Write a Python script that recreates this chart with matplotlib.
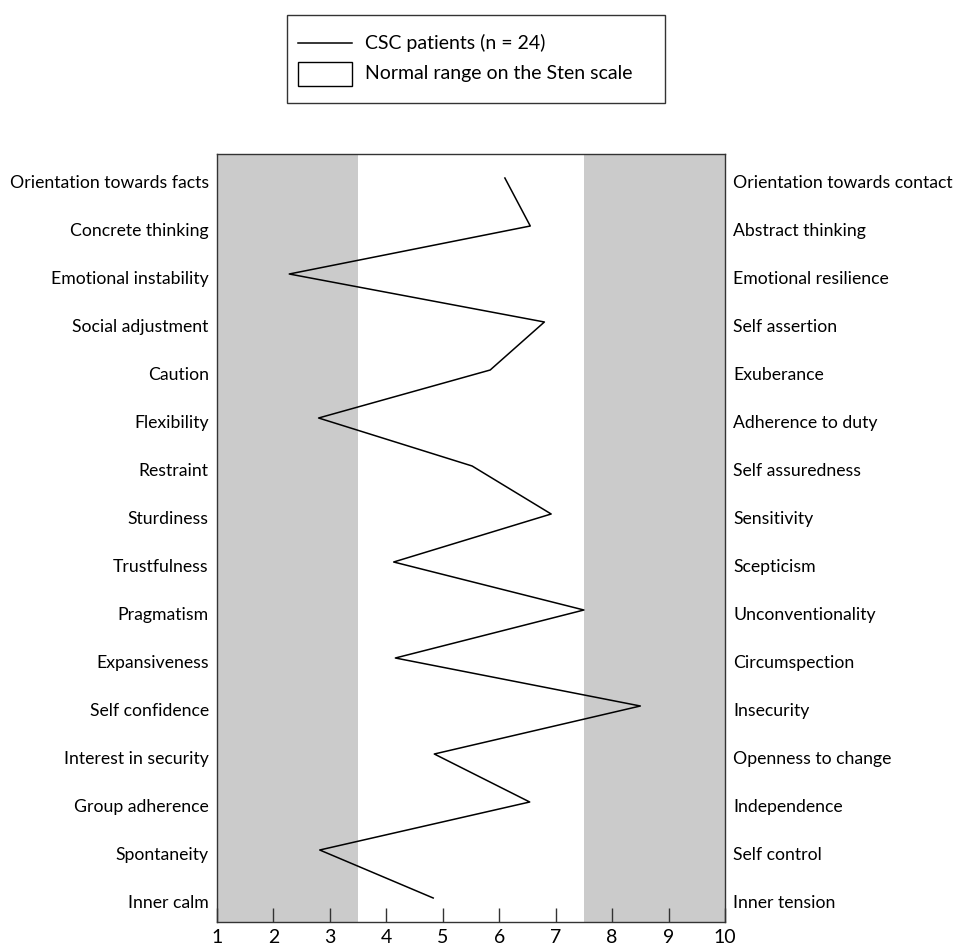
import matplotlib
matplotlib.use('Agg')
import matplotlib.pyplot as plt
import matplotlib.transforms as mtransforms
from matplotlib.patches import Rectangle
from matplotlib.lines import Line2D

plt.rcParams['font.family'] = ['Lato', 'DejaVu Sans']

# 16PF factors: low pole (left) / high pole (right)
left_labels = ['Orientation towards facts', 'Concrete thinking', 'Emotional instability',
               'Social adjustment', 'Caution', 'Flexibility', 'Restraint', 'Sturdiness',
               'Trustfulness', 'Pragmatism', 'Expansiveness', 'Self confidence',
               'Interest in security', 'Group adherence', 'Spontaneity', 'Inner calm']
right_labels = ['Orientation towards contact', 'Abstract thinking', 'Emotional resilience',
                'Self assertion', 'Exuberance', 'Adherence to duty', 'Self assuredness',
                'Sensitivity', 'Scepticism', 'Unconventionality', 'Circumspection',
                'Insecurity', 'Openness to change', 'Independence', 'Self control',
                'Inner tension']
# mean sten score of CSC patients
sten = [6.1, 6.55, 2.28, 6.8, 5.84, 2.8, 5.52, 6.92, 4.13, 7.5, 4.16, 8.5, 4.85, 6.54, 2.82, 4.83]
normal_low, normal_high = 3.5, 7.5
xticks = list(range(1, 11))

W, H = 956, 946
fig = plt.figure(figsize=(W / 100, H / 100), dpi=100)
ax = fig.add_axes([217 / W, 1 - 922 / H, 508 / W, 768 / H])

rows = list(range(1, len(sten) + 1))
grey = '#cbcbcb'
ax.axvspan(1, normal_low, color=grey, lw=0, zorder=0)
ax.axvspan(normal_high, 10, color=grey, lw=0, zorder=0)
ax.plot(sten, rows, color='black', lw=1.1, zorder=3)

ax.set_xlim(1, 10)
ax.set_ylim(len(sten) + 0.5, 0.5)
ax.set_xticks(xticks)
ax.set_xticklabels([str(t) for t in xticks], fontsize=14)
ax.tick_params(axis='x', direction='in', length=10, width=1, color='#333333', pad=5)
ax.set_yticks(rows)
ax.set_yticklabels(left_labels, fontsize=12.7)
ax.tick_params(axis='y', length=0, pad=6)
for s in ax.spines.values():
    s.set_color('#333333')
    s.set_linewidth(1)

ax2 = ax.twinx()
ax2.set_ylim(ax.get_ylim())
ax2.set_yticks(rows)
ax2.set_yticklabels(right_labels, fontsize=12.7)
ax2.tick_params(axis='y', length=0, pad=6)
for s in ax2.spines.values():
    s.set_visible(False)

# labels sit a few pixels lower than the line vertices in the original
shift = mtransforms.ScaledTranslation(0, -3 / 100, fig.dpi_scale_trans)
for lab in ax.get_yticklabels() + ax2.get_yticklabels():
    lab.set_transform(lab.get_transform() + shift)

# legend box drawn by hand
def fx(px):
    return px / W

def fy(py):
    return 1 - py / H

fig.add_artist(Rectangle((fx(287), fy(103)), fx(665) - fx(287), fy(15) - fy(103),
                         transform=fig.transFigure, facecolor='white', edgecolor='#333333', lw=1))
fig.add_artist(Line2D([fx(298), fx(352)], [fy(43), fy(43)], transform=fig.transFigure,
                      color='black', lw=1.1))
fig.add_artist(Rectangle((fx(298), fy(86)), fx(352) - fx(298), fy(62) - fy(86),
                         transform=fig.transFigure, facecolor='white', edgecolor='black', lw=1))
fig.text(fx(365), fy(43), 'CSC patients (n = 24)', fontsize=14, va='center', ha='left')
fig.text(fx(365), fy(74), 'Normal range on the Sten scale', fontsize=14, va='center', ha='left')

fig.savefig('out.png', dpi=100, facecolor='white')
